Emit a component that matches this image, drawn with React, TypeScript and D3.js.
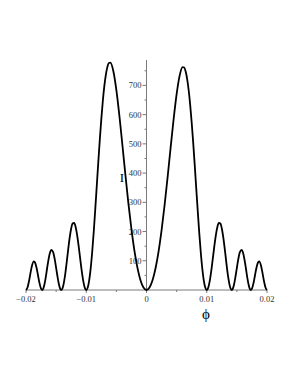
import React from "react";
import * as d3 from "d3";

// values (phi, intensity I)
const phi = [
  -0.02, -0.01975, -0.0195, -0.01925, -0.019, -0.0187, -0.0185, -0.01825, -0.018, -0.01775, -0.0175,
  -0.01732, -0.01715, -0.017, -0.01675, -0.0165, -0.01625, -0.016, -0.0158, -0.0155, -0.01525, -0.015,
  -0.01475, -0.0145, -0.0143, -0.01414, -0.01395, -0.01375, -0.0135, -0.01325, -0.013, -0.01275, -0.0125,
  -0.01225, -0.012, -0.01175, -0.0115, -0.01125, -0.011, -0.01075, -0.0105, -0.01025, -0.01,
  -0.00975, -0.0095, -0.00925, -0.009, -0.00875, -0.0085, -0.00825, -0.008, -0.00775, -0.0075, -0.00725,
  -0.007, -0.00675, -0.0065, -0.00625, -0.006, -0.0055, -0.005, -0.0045, -0.004, -0.0035, -0.003,
  -0.0025, -0.002, -0.0015, -0.001, -0.0005, 0,
  0.0005, 0.001, 0.0015, 0.002, 0.0025, 0.003, 0.0035, 0.004, 0.0045, 0.005, 0.0055, 0.006, 0.00625,
  0.0065, 0.00675, 0.007, 0.00725, 0.0075, 0.00775, 0.008, 0.00825, 0.0085, 0.00875, 0.009, 0.00925,
  0.0095, 0.00975, 0.01, 0.01025, 0.0105, 0.01075, 0.011, 0.01125, 0.0115, 0.01175, 0.012, 0.01225,
  0.0125, 0.01275, 0.013, 0.01325, 0.0135, 0.01375, 0.01395, 0.01414, 0.0143, 0.0145, 0.01475, 0.015,
  0.01525, 0.0155, 0.0158, 0.016, 0.01625, 0.0165, 0.01675, 0.017, 0.01715, 0.01732, 0.0175, 0.01775,
  0.018, 0.01825, 0.0185, 0.0187, 0.019, 0.01925, 0.0195, 0.01975, 0.02,
];

const intensity = [
  0, 8.3, 30.4, 58.8, 83.9, 97.8, 94.1, 76.3, 49.5, 22.5, 4.3,
  0, 3.9, 13.8, 40.1, 73.6, 105.8, 128.9, 137.0, 129.4, 107.1, 76.0,
  43.2, 16.3, 3.3, 0, 5.0, 20.9, 52.5, 93.8, 138.4, 179.3, 210.5,
  227.9, 229.2, 214.4, 186.2, 148.3, 106.2, 65.3, 31.1, 8.2, 0,
  8.6, 34.7, 76.8, 133.4, 201.0, 277.4, 357.3, 437.5, 514.5, 584.8, 646.5,
  697.3, 736.2, 762.6, 776.6, 777.8, 748.6, 684, 596.1, 496.2, 393.4, 295.8,
  208.3, 134.2, 75.8, 33.7, 8.4, 0,
  8.2, 33.0, 74.3, 131.5, 204.1, 289.9, 385.5, 486.3, 584.2, 670.3, 733.6, 762.2, 761.1,
  747.3, 721.5, 683.4, 633.6, 573.1, 504.2, 428.8, 350.2, 271.9, 197.0, 130.7, 75.3,
  34.0, 8.4, 0, 8.2, 31.1, 65.3, 106.2, 148.3, 186.2, 214.4, 229.2, 227.9,
  210.5, 179.3, 138.4, 93.8, 52.5, 20.9, 5.0, 0, 3.3, 16.3, 43.2, 76.0,
  107.1, 129.4, 137.0, 128.9, 105.8, 73.6, 40.1, 13.8, 3.9, 0, 4.3, 22.5,
  49.5, 76.3, 94.1, 97.8, 83.9, 58.8, 30.4, 8.3, 0,
];

const xMajorTicks = [-0.02, -0.01, 0, 0.01, 0.02];
const xTickLabels = ["\u22120.02", "\u22120.01", "0", "0.01", "0.02"];
const xMinorTicks = [-0.015, -0.005, 0.005, 0.015];
const yMajorTicks = [100, 200, 300, 400, 500, 600, 700];
const yMinorTicks = [50, 150, 250, 350, 450, 550, 650, 750];

const W = 295;
const H = 382;
const axisColor = "#7a7a7a";
const font = "'Liberation Serif', 'DejaVu Serif', serif";

export default function App() {
  const x = d3.scaleLinear().domain([-0.02, 0.02]).range([26, 267]);
  const y = d3.scaleLinear().domain([0, 700]).range([290, 85.4]);
  const yTop = 787;

  const pts = phi.map((p, i) => [p, intensity[i]] as [number, number]);
  const line = d3
    .line<[number, number]>()
    .x((d) => x(d[0]))
    .y((d) => y(d[1]))
    .curve(d3.curveMonotoneX);

  const x0 = x(0);
  const y0 = y(0);

  return (
    <svg
      width={W}
      height={H}
      style={{ position: "absolute", left: 0, top: 0, background: "#fff" }}
    >
      {/* x axis */}
      <line x1={x(-0.02)} x2={x(0.02)} y1={y0} y2={y0} stroke={axisColor} strokeWidth={1} />
      {xMajorTicks.map((t, i) => (
        <g key={"xt" + t}>
          <line x1={x(t)} x2={x(t)} y1={y0} y2={y0 + 3} stroke={axisColor} />
          <text
            x={x(t)}
            y={y0 + 12}
            textAnchor="middle"
            fontSize={8.5}
            fontFamily={font}
            fill="#333"
          >
            {xTickLabels[i]}
          </text>
        </g>
      ))}
      {xMinorTicks.map((t) => (
        <line key={"xm" + t} x1={x(t)} x2={x(t)} y1={y0} y2={y0 + 2} stroke={axisColor} />
      ))}

      {/* y axis */}
      <line x1={x0} x2={x0} y1={y0} y2={y(yTop)} stroke={axisColor} strokeWidth={1} />
      {yMajorTicks.map((t) => (
        <g key={"yt" + t}>
          <line x1={x0 - 4} x2={x0} y1={y(t)} y2={y(t)} stroke={axisColor} />
          <text
            x={x0 - 5}
            y={y(t) + 3}
            textAnchor="end"
            fontSize={8.5}
            fontFamily={font}
            fill="#333"
          >
            {t}
          </text>
        </g>
      ))}
      {yMinorTicks.map((t) => (
        <line key={"ym" + t} x1={x0 - 2} x2={x0} y1={y(t)} y2={y(t)} stroke={axisColor} />
      ))}

      {/* curve */}
      <path d={line(pts) ?? ""} fill="none" stroke="#000" strokeWidth={1.8} strokeLinejoin="round" />

      {/* axis titles */}
      <text x={122} y={182} textAnchor="middle" fontSize={13} fontFamily={font} fill="#000">
        I
      </text>
      <text x={206} y={319} textAnchor="middle" fontSize={15} fontFamily={font} fill="#000">
        {"\u03D5"}
      </text>
    </svg>
  );
}
